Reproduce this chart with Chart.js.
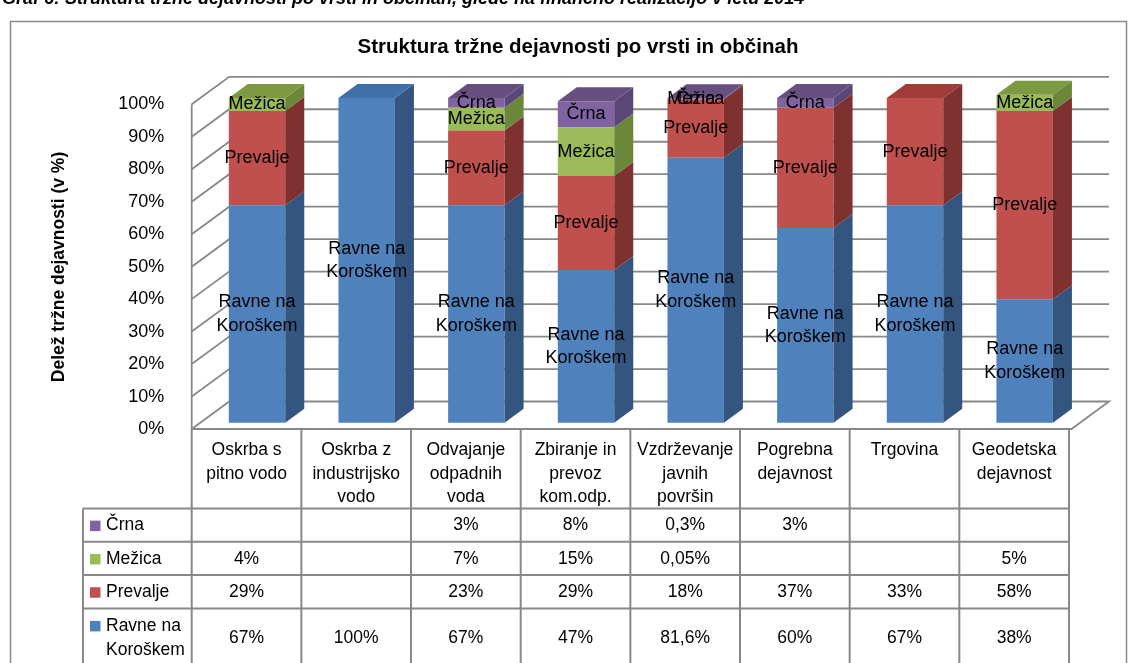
<!DOCTYPE html>
<html>
<head>
<meta charset="utf-8">
<script src="https://cdn.jsdelivr.net/npm/chart.js@4.4.1/dist/chart.umd.min.js"></script>
<style>
  html, body { margin: 0; padding: 0; background: #fff; overflow: hidden; }
  canvas { display: block; }
</style>
</head>
<body>
<canvas id="chart" width="1131" height="663"></canvas>
<script>
// categories (multi-line, as in the data table)
const categories = [
  ['Oskrba s', 'pitno vodo'],
  ['Oskrba z', 'industrijsko', 'vodo'],
  ['Odvajanje', 'odpadnih', 'voda'],
  ['Zbiranje in', 'prevoz', 'kom.odp.'],
  ['Vzdrževanje', 'javnih', 'površin'],
  ['Pogrebna', 'dejavnost'],
  ['Trgovina'],
  ['Geodetska', 'dejavnost']
];
const seriesNames = ['Ravne na Koroškem', 'Prevalje', 'Mežica', 'Črna'];
const seriesLines = [['Ravne na', 'Koroškem'], ['Prevalje'], ['Mežica'], ['Črna']];

// shares in %
const ravne    = [67, 100, 67, 47, 81.6, 60, 67, 38];
const prevalje = [29, 0, 23, 29, 18, 37, 33, 58];
const mezica   = [4, 0, 7, 15, 0.05, 0, 0, 5];
const crna     = [0, 0, 3, 8, 0.3, 3, 0, 0];

const frontColors = ['#4F81BD', '#C0504D', '#9BBB59', '#8064A2'];
const sideColors  = ['#34557F', '#7F312F', '#6B873A', '#5A4677'];
const topColors   = ['#4170A8', '#A03C3A', '#7C9A42', '#65507F'];

const FONT = '"Liberation Sans", Arial, sans-serif';
const SHIFT = 10.5;          // bar front faces sit a bit right of the table columns
const BAR_DX = 19, BAR_DY = -14;
const WALL_DX = 37.5, WALL_DY = -27.5;
const FRONT_OFF = 6.3;       // front plane of the floor vs bar base
const GRID = '#888888';

function fmt(v) {
  if (!v) return '';
  return String(v).replace('.', ',') + '%';
}

function poly(ctx, pts, fill) {
  ctx.beginPath();
  ctx.moveTo(pts[0][0], pts[0][1]);
  for (let k = 1; k < pts.length; k++) ctx.lineTo(pts[k][0], pts[k][1]);
  ctx.closePath();
  ctx.fillStyle = fill;
  ctx.fill();
}

function geom(chart) {
  const x = chart.scales.x;
  const step = x.getPixelForValue(1) - x.getPixelForValue(0);
  const left = x.getPixelForValue(0) - step / 2 - SHIFT;
  const right = x.getPixelForValue(categories.length - 1) + step / 2 - SHIFT;
  return { step, left, right };
}

const look3d = {
  id: 'look3d',
  beforeDatasetsDraw(chart) {
    const ctx = chart.ctx, y = chart.scales.y;
    const { left, right } = geom(chart);
    const fy = v => y.getPixelForValue(v) + FRONT_OFF;
    ctx.save();
    ctx.strokeStyle = GRID;
    ctx.lineWidth = 1.8;
    // left wall + back wall gridlines
    y.ticks.forEach(t => {
      const yf = fy(t.value);
      ctx.beginPath();
      ctx.moveTo(left, yf);
      ctx.lineTo(left + WALL_DX, yf + WALL_DY);
      if (t.value > 0) ctx.lineTo(right + 2.5 + WALL_DX, yf + WALL_DY);
      ctx.stroke();
    });
    ctx.beginPath();
    ctx.moveTo(left, fy(100));
    ctx.lineTo(left, fy(0));
    ctx.stroke();
    // floor
    ctx.beginPath();
    ctx.moveTo(left, fy(0));
    ctx.lineTo(right + 2.5, fy(0));
    ctx.lineTo(right + 2.5 + WALL_DX, fy(0) + WALL_DY);
    ctx.lineTo(left + WALL_DX, fy(0) + WALL_DY);
    ctx.stroke();
    ctx.restore();
  },
  afterDatasetsDraw(chart) {
    const ctx = chart.ctx;
    const sets = chart.data.datasets;
    ctx.save();
    for (let j = 0; j < categories.length; j++) {
      let topSeg = -1;
      sets.forEach((ds, i) => { if (ds.data[j] > 0) topSeg = i; });
      sets.forEach((ds, i) => {
        if (!(ds.data[j] > 0)) return;
        const p = chart.getDatasetMeta(i).data[j].getProps(['x', 'y', 'base', 'width'], true);
        const xl = p.x - p.width / 2, xr = p.x + p.width / 2;
        poly(ctx, [[xr, p.base], [xr, p.y], [xr + BAR_DX, p.y + BAR_DY], [xr + BAR_DX, p.base + BAR_DY]], sideColors[i]);
        if (i === topSeg) {
          poly(ctx, [[xl, p.y], [xr, p.y], [xr + BAR_DX, p.y + BAR_DY], [xl + BAR_DX, p.y + BAR_DY]], topColors[i]);
        }
      });
    }
    // segment labels
    ctx.fillStyle = '#000';
    ctx.font = '18px ' + FONT;
    ctx.textAlign = 'center';
    ctx.textBaseline = 'middle';
    sets.forEach((ds, i) => {
      const lines = seriesLines[i];
      ds.data.forEach((v, j) => {
        if (!(v > 0)) return;
        const p = chart.getDatasetMeta(i).data[j].getProps(['x', 'y', 'base'], true);
        const cy = (p.y + p.base) / 2;
        lines.forEach((ln, k) => {
          ctx.fillText(ln, p.x, cy + (k - (lines.length - 1) / 2) * 23.5);
        });
      });
    });
    ctx.restore();
  },
  afterDraw(chart) {
    const ctx = chart.ctx, y = chart.scales.y, x = chart.scales.x;
    const { step, left, right } = geom(chart);
    ctx.save();
    // caption (cut off at top)
    ctx.fillStyle = '#000';
    ctx.font = 'italic bold 18px ' + FONT;
    ctx.textAlign = 'left';
    ctx.textBaseline = 'alphabetic';
    ctx.fillText('Graf 6: Struktura tržne dejavnosti po vrsti in občinah, glede na finančno realizacijo v letu 2014', 2, 4);
    // outer frame
    ctx.strokeStyle = '#8a8a8a';
    ctx.lineWidth = 1.5;
    ctx.strokeRect(10.5, 21.5, 1116, 700);
    // title
    ctx.font = 'bold 20.5px ' + FONT;
    ctx.textAlign = 'center';
    ctx.textBaseline = 'middle';
    ctx.fillText('Struktura tržne dejavnosti po vrsti in občinah', 578, 47);
    // y title
    ctx.save();
    ctx.translate(59, 267);
    ctx.rotate(-Math.PI / 2);
    ctx.font = 'bold 17.5px ' + FONT;
    ctx.fillText('Delež tržne dejavnosti (v %)', 0, 0);
    ctx.restore();

    // data table
    const top = y.getPixelForValue(0) + FRONT_OFF;
    const headBottom = top + 79.5;
    const rowH = 33.3;
    const labelLeft = 83;
    const bottom = 663;
    ctx.strokeStyle = GRID;
    ctx.lineWidth = 2;
    for (let i = 0; i <= categories.length; i++) {
      const cx = left + i * step;
      ctx.beginPath(); ctx.moveTo(cx, top); ctx.lineTo(cx, bottom); ctx.stroke();
    }
    ctx.beginPath(); ctx.moveTo(labelLeft, headBottom); ctx.lineTo(labelLeft, bottom); ctx.stroke();
    for (let r = 0; r < 4; r++) {
      const ry = headBottom + r * rowH;
      ctx.beginPath(); ctx.moveTo(labelLeft, ry); ctx.lineTo(right, ry); ctx.stroke();
    }
    ctx.fillStyle = '#000';
    ctx.font = '17.5px ' + FONT;
    ctx.textAlign = 'center';
    ctx.textBaseline = 'middle';
    categories.forEach((lines, j) => {
      const cx = x.getPixelForValue(j) - SHIFT;
      lines.forEach((ln, k) => ctx.fillText(ln, cx, top + 21.5 + k * 23.3));
    });
    const rows = [3, 2, 1, 0];
    rows.forEach((si, r) => {
      const ry = headBottom + r * rowH;
      const last = r === rows.length - 1;
      const cy = last ? ry + 30 : ry + rowH / 2 + 0.5;
      const lines = seriesLines[si];
      const ly0 = last ? ry + 17.5 : cy;
      ctx.fillStyle = frontColors[si];
      ctx.fillRect(90, ly0 - 5, 10.5, 10.5);
      ctx.fillStyle = '#000';
      ctx.textAlign = 'left';
      lines.forEach((ln, k) => ctx.fillText(ln, 106, ly0 + k * 24.5));
      ctx.textAlign = 'center';
      chart.data.datasets[si].data.forEach((v, j) => {
        const cx = x.getPixelForValue(j) - SHIFT;
        ctx.fillText(fmt(v), cx, cy);
      });
    });
    ctx.restore();
  }
};

new Chart(document.getElementById('chart'), {
  type: 'bar',
  data: {
    labels: categories,
    datasets: [
      { label: seriesNames[0], data: ravne, backgroundColor: frontColors[0] },
      { label: seriesNames[1], data: prevalje, backgroundColor: frontColors[1] },
      { label: seriesNames[2], data: mezica, backgroundColor: frontColors[2] },
      { label: seriesNames[3], data: crna, backgroundColor: frontColors[3] }
    ].map(d => Object.assign(d, { borderWidth: 0, barPercentage: 0.515, categoryPercentage: 1, clip: false }))
  },
  options: {
    responsive: false,
    animation: false,
    devicePixelRatio: 1,
    layout: { padding: { left: 0, right: 51.5, top: 98, bottom: 240.3 } },
    plugins: { legend: { display: false }, title: { display: false }, tooltip: { enabled: false } },
    scales: {
      x: { stacked: true, display: false },
      y: {
        stacked: true,
        min: 0,
        max: 100,
        grid: { display: false },
        border: { display: false },
        ticks: {
          stepSize: 10,
          padding: 30,
          labelOffset: 6.5,
          color: '#000',
          font: { family: FONT, size: 18 },
          callback: v => v + '%'
        },
        afterFit(scale) { scale.width = 202.2; }
      }
    }
  },
  plugins: [look3d]
});
</script>
</body>
</html>
